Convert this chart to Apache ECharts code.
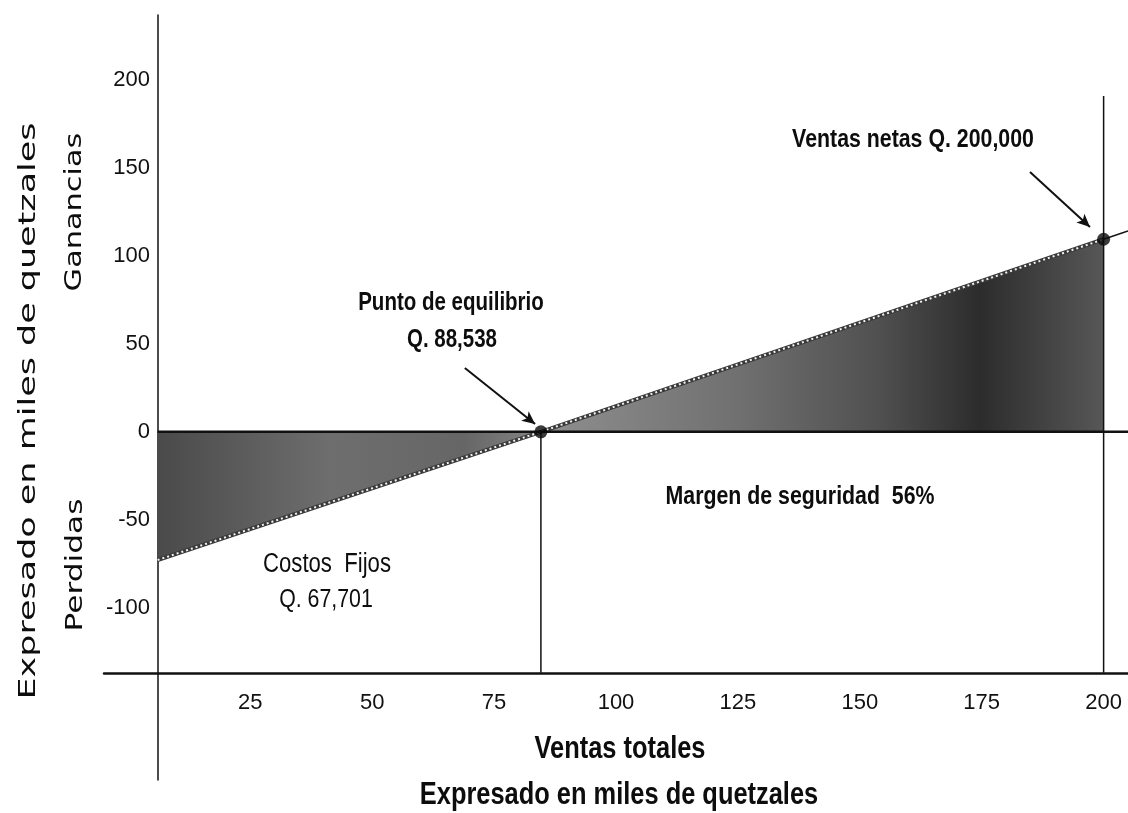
<!DOCTYPE html>
<html>
<head>
<meta charset="utf-8">
<title>Punto de equilibrio</title>
<script src="https://cdn.jsdelivr.net/npm/echarts@6/dist/echarts.min.js"></script>
<style>
  html, body { margin: 0; padding: 0; background: #ffffff; }
  #chart { width: 1128px; height: 813px; }
</style>
</head>
<body>
<div id="chart"></div>
<script>
  // ventas y resultados en miles de quetzales
  var xTicks = [25, 50, 75, 100, 125, 150, 175, 200];
  var yTicks = [-100, -50, 0, 50, 100, 150, 200];
  var xRange = [-5, 205];
  var yRange = [-198, 237];
  var lossLine = [[6, -72.9], [84.6, 0]];
  var profitLine = [[84.6, 0], [200, 109.5]];
  var lineTail = [[200, 109.5], [205, 114.2]];
  var zeroLine = [[6, 0], [205, 0]];
  var breakevenDrop = [[84.6, 0], [84.6, -137]];
  var salesDrop = [[200, 191], [200, -137]];
  var keyPoints = [[84.6, 0], [200, 109.5]];
  var arrowEquilibrio = [[69, 36.3], [83.4, 4.4]];
  var arrowVentas = [[184.9, 147.7], [197.2, 116.5]];

  // no hay Arial Narrow: se comprime Liberation Sans al 82%
  var sans = '"Liberation Sans", Arial, sans-serif';
  var wide = '"DejaVu Sans", sans-serif';

  function gradient(stops) {
    return {
      type: "linear", x: 0, y: 0, x2: 1, y2: 0,
      colorStops: stops.map(function (s) { return { offset: s[0], color: s[1] }; })
    };
  }

  function label(text, x, y, size, weight) {
    return {
      type: "text", x: x, y: y, z: 100, scaleX: 0.82,
      style: {
        text: text, fill: "#0d0d0d", fontSize: size, fontWeight: weight || "normal",
        fontFamily: sans, textAlign: "center", textVerticalAlign: "middle"
      }
    };
  }

  function sideLabel(text, x, y, stretch) {
    return {
      type: "text", x: x, y: y, z: 100, rotation: Math.PI / 2, scaleX: stretch,
      style: {
        text: text, fill: "#0d0d0d", fontSize: 23, fontFamily: wide,
        textAlign: "center", textVerticalAlign: "middle"
      }
    };
  }

  function plainLine(data, width, color) {
    return {
      type: "line", data: data, symbol: "none", silent: true, z: 5,
      lineStyle: { color: color || "#111", width: width }
    };
  }

  var chart = echarts.init(document.getElementById("chart"), null, { renderer: "canvas" });

  chart.setOption({
    animation: false,
    backgroundColor: "#ffffff",
    grid: { left: 104, right: 0, top: 15, bottom: 33 },
    xAxis: {
      type: "value", min: xRange[0], max: xRange[1],
      position: "bottom", offset: -107,
      axisLine: { onZero: false, lineStyle: { color: "#111", width: 2.5 } },
      axisTick: { show: false },
      splitLine: { show: false },
      axisLabel: {
        customValues: xTicks, margin: 19, color: "#111",
        fontSize: 22, fontFamily: sans
      }
    },
    yAxis: {
      type: "value", min: yRange[0], max: yRange[1],
      position: "left", offset: -54,
      axisLine: { show: true, onZero: false, lineStyle: { color: "#111", width: 1.5 } },
      axisTick: { show: false },
      splitLine: { show: false },
      axisLabel: {
        customValues: yTicks, margin: 8, color: "#111",
        fontSize: 22, fontFamily: sans
      }
    },
    series: [
      {
        type: "line", data: lossLine, symbol: "none", silent: true, z: 2,
        lineStyle: { width: 0 },
        areaStyle: { opacity: 1, color: gradient([[0, "#4a4a4a"], [0.45, "#6e6e6e"], [0.8, "#666666"], [1, "#858585"]]) }
      },
      {
        type: "line", data: profitLine, symbol: "none", silent: true, z: 2,
        lineStyle: { width: 0 },
        areaStyle: { opacity: 1, color: gradient([[0, "#8f8f8f"], [0.35, "#707070"], [0.6, "#505050"], [0.78, "#2c2c2c"], [1, "#575757"]]) }
      },
      {
        type: "line", data: lossLine.concat(profitLine.slice(1)), symbol: "none", silent: true, z: 3,
        lineStyle: { color: "#3a3a3a", width: 4 }
      },
      {
        type: "line", data: lossLine.concat(profitLine.slice(1)), symbol: "none", silent: true, z: 4,
        lineStyle: { color: "#f2f2f2", width: 2, type: [2, 3] }
      },
      plainLine(lineTail, 1.5),
      plainLine(zeroLine, 2.5),
      plainLine(breakevenDrop, 1.5),
      plainLine(salesDrop, 1.5),
      {
        type: "scatter", data: keyPoints, symbol: "circle", symbolSize: 13, silent: true, z: 6,
        itemStyle: { color: "#0a0a0a" }
      },
      {
        type: "line", data: [], silent: true,
        markLine: {
          silent: true, animation: false,
          symbol: ["none", "arrow"], symbolSize: [9, 13],
          label: { show: false },
          lineStyle: { color: "#111", width: 2, type: "solid" },
          data: [
            [{ coord: arrowEquilibrio[0] }, { coord: arrowEquilibrio[1] }],
            [{ coord: arrowVentas[0] }, { coord: arrowVentas[1] }]
          ]
        }
      }
    ],
    graphic: [
      label("Punto de equilibrio", 451, 303, 25, "bold"),
      label("Q. 88,538", 452, 340, 25, "bold"),
      label("Ventas netas Q. 200,000", 913, 140, 26, "bold"),
      label("Margen de seguridad  56%", 800, 497, 26, "bold"),
      label("Costos  Fijos", 327, 565, 27),
      label("Q. 67,701", 326, 600, 26),
      label("Ventas totales", 620, 749, 31, "bold"),
      label("Expresado en miles de quetzales", 619, 795, 31, "bold"),
      sideLabel("Expresado en miles de quetzales", 29, 411, 1.52),
      sideLabel("Ganancias", 75, 212, 1.32),
      sideLabel("Perdidas", 76, 565, 1.36)
    ]
  });
</script>
</body>
</html>
